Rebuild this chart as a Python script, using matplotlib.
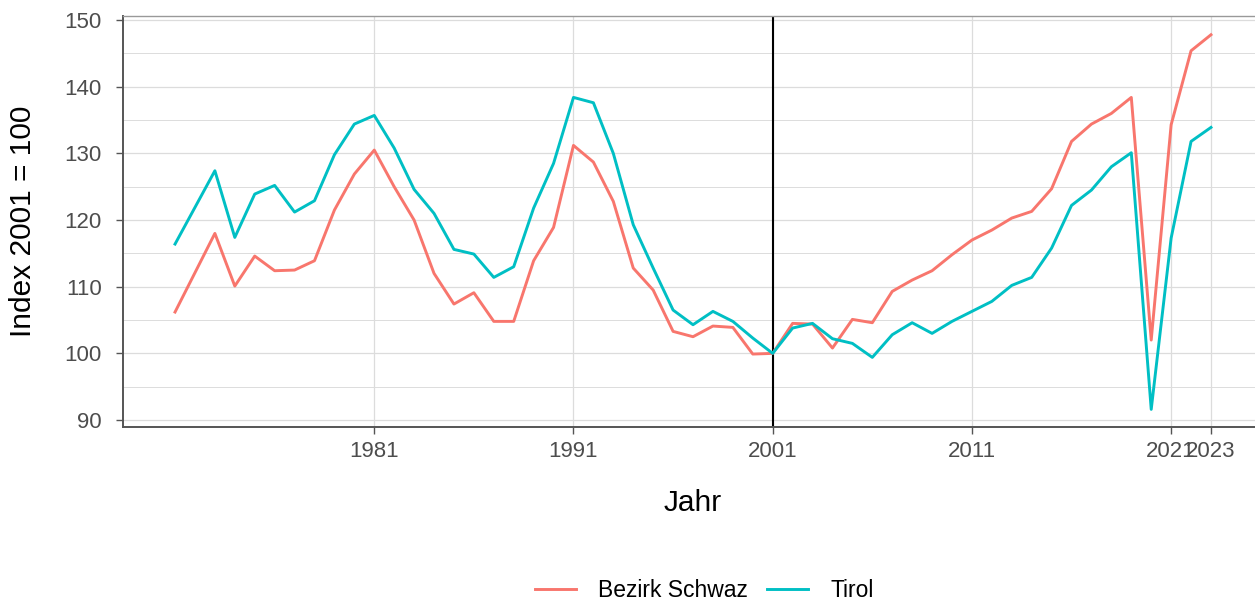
import numpy as np
import matplotlib
matplotlib.use("Agg")
import matplotlib.pyplot as plt
from matplotlib.ticker import MultipleLocator

plt.rcParams['font.family'] = ['Liberation Sans', 'DejaVu Sans']

# data (index 2001 = 100)
years = list(range(1971, 2024))
schwaz = [106.2, 112.1, 118.0, 110.1, 114.6, 112.4, 112.5, 113.9, 121.5, 126.9,
          130.5, 125.0, 120.0, 112.0, 107.4, 109.1, 104.8, 104.8, 113.9, 118.9,
          131.2, 128.7, 122.8, 112.8, 109.5, 103.3, 102.5, 104.1, 103.9, 99.9,
          100.0, 104.5, 104.4, 100.8, 105.1, 104.6, 109.3, 111.0, 112.4, 114.8,
          117.0, 118.5, 120.3, 121.3, 124.7, 131.8, 134.4, 136.0, 138.4, 102.0,
          134.3, 145.4, 147.8]
tirol = [116.4, 121.9, 127.4, 117.4, 123.9, 125.2, 121.2, 122.9, 129.8, 134.4,
         135.7, 130.8, 124.6, 121.0, 115.6, 114.9, 111.4, 113.0, 121.8, 128.5,
         138.4, 137.6, 130.0, 119.3, 112.8, 106.5, 104.3, 106.3, 104.8, 102.3,
         100.0, 103.8, 104.5, 102.2, 101.5, 99.4, 102.8, 104.6, 103.0, 104.8,
         106.3, 107.8, 110.2, 111.4, 115.8, 122.2, 124.5, 128.0, 130.1, 91.6,
         117.3, 131.8, 133.9]
x_ticks = [1981, 1991, 2001, 2011, 2021, 2023]

red = "#F8766D"
cyan = "#00BFC4"

fig = plt.figure(figsize=(12.55, 6.01), dpi=100)
ax = fig.add_axes([0.0982, 0.29, 0.908, 0.684])

ax.set_xlim(1968.4, 2025.6)
ax.set_ylim(89.0, 150.67)

ax.yaxis.set_major_locator(MultipleLocator(10))
ax.yaxis.set_minor_locator(MultipleLocator(5))
ax.set_xticks(x_ticks)
ax.grid(which='major', axis='both', color='#DCDCDC', lw=0.9)
ax.grid(which='minor', axis='y', color='#DCDCDC', lw=0.7)
ax.set_axisbelow(True)

ax.axvline(2001, color='black', lw=1.5, zorder=2)
ax.plot(years, schwaz, color=red, lw=2.1, label='Bezirk Schwaz', zorder=3)
ax.plot(years, tirol, color=cyan, lw=2.1, label='Tirol', zorder=3)

for s in ['top', 'right']:
    ax.spines[s].set_color('#999999')
    ax.spines[s].set_linewidth(1.0)
for s in ['left', 'bottom']:
    ax.spines[s].set_color('#555555')
    ax.spines[s].set_linewidth(1.4)

ax.tick_params(axis='both', which='major', labelsize=16, labelcolor='#4D4D4D',
               color='#555555', length=5, width=1)
ax.tick_params(axis='y', which='minor', length=0)
ax.tick_params(axis='x', pad=5.5)
ax.tick_params(axis='y', pad=10.5)

ax.set_xlabel('Jahr', fontsize=21.5, labelpad=19)
ax.set_ylabel('Index 2001 = 100', fontsize=21.5, labelpad=20)

fig.legend(loc='center', bbox_to_anchor=(0.561, 0.018), ncol=2, frameon=False,
           fontsize=16.5, handlelength=1.8, columnspacing=0.85, handletextpad=0.95)

fig.savefig('out.png', dpi=100)
